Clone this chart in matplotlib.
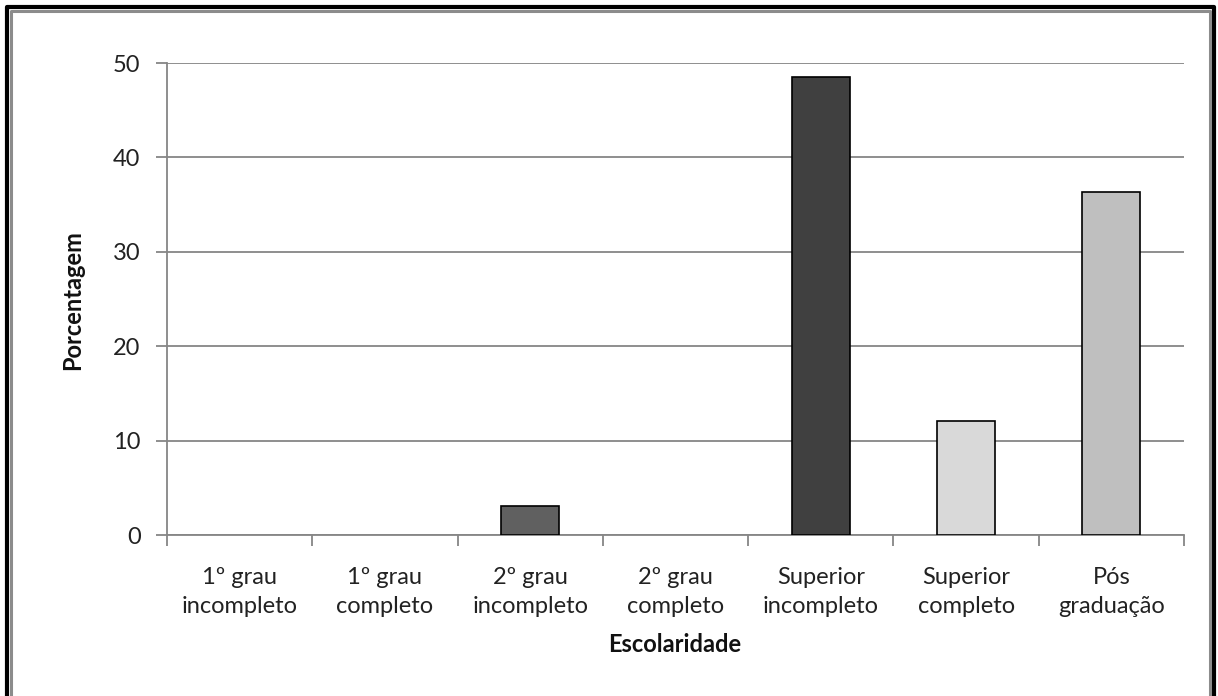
import matplotlib
matplotlib.use("Agg")
import matplotlib.pyplot as plt
from matplotlib.lines import Line2D

categories = ["1º grau\nincompleto", "1º grau\ncompleto", "2º grau\nincompleto",
              "2º grau\ncompleto", "Superior\nincompleto", "Superior\ncompleto",
              "Pós\ngraduação"]
values = [0, 0, 3.03, 0, 48.48, 12.12, 36.36]
bar_colors = ["#808080", "#808080", "#606060", "#808080", "#404040", "#d9d9d9", "#bfbfbf"]
y_ticks = [0, 10, 20, 30, 40, 50]

plt.rcParams["font.family"] = ["Lato", "DejaVu Sans"]

W, H = 1218, 696
fig = plt.figure(figsize=(W / 100, H / 100), dpi=100)
fig.patch.set_facecolor("white")

# plot area in pixel coordinates
left, right, top, bottom = 167, 1184, 63, 535
ax = fig.add_axes([left / W, 1 - bottom / H, (right - left) / W, (bottom - top) / H])

x = list(range(len(categories)))
edge_widths = [1.2 if v > 0 else 0 for v in values]
ax.bar(x, values, width=0.4, color=bar_colors, edgecolor="black",
       linewidth=edge_widths, zorder=3)

ax.set_xlim(-0.5, len(categories) - 0.5)
ax.set_ylim(0, 50)
ax.set_yticks(y_ticks)
ax.set_yticklabels([str(t) for t in y_ticks], fontsize=17, color="#222222")
ax.yaxis.grid(True, color="#868686", linewidth=1.3, zorder=0)
ax.set_axisbelow(True)

# category boundary ticks on the x axis
ax.set_xticks([i - 0.5 for i in range(len(categories) + 1)])
ax.set_xticklabels([])
ax.set_xticks(x, minor=True)
ax.set_xticklabels(categories, minor=True, fontsize=17, color="#222222", linespacing=1.5)
ax.tick_params(axis="x", which="major", length=8, width=1.3, color="#868686", direction="out")
ax.tick_params(axis="x", which="minor", length=0, pad=23)
ax.tick_params(axis="y", length=8, width=1.3, color="#868686", pad=11)

for side in ["top", "right"]:
    ax.spines[side].set_visible(False)
for side in ["left", "bottom"]:
    ax.spines[side].set_color("#868686")
    ax.spines[side].set_linewidth(1.3)

fig.text(73 / W, 1 - 300 / H, "Porcentagem", rotation=90, ha="center", va="center",
         fontsize=17, fontweight="bold", color="#111111")
fig.text(675 / W, 1 - 645 / H, "Escolaridade", ha="center", va="center",
         fontsize=17, fontweight="bold", color="#111111")

# double frame around the chart: outer black line, inner gray line
def frame_line(xs, ys, color, lw):
    fig.add_artist(Line2D([v / W for v in xs], [1 - v / H for v in ys],
                          color=color, linewidth=lw, transform=fig.transFigure,
                          solid_capstyle="butt"))

frame_line([7, 7, 1214, 1214], [H + 2, 7, 7, H + 2], "black", 3)
frame_line([11, 11, 1210, 1210], [H + 2, 11, 11, H + 2], "#8c8c8c", 2.2)

fig.savefig("out.png", dpi=100, facecolor="white")
